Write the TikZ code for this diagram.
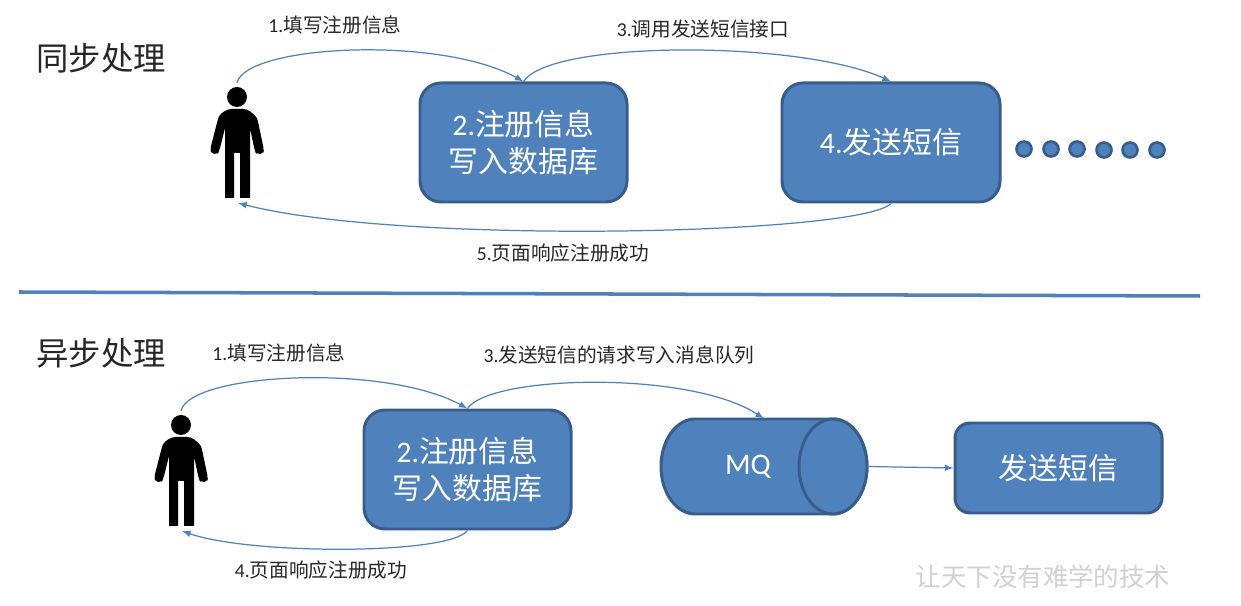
\documentclass[tikz,border=0pt]{standalone}
\usepackage{fontspec}
\setmainfont{Carlito}
\newfontfamily\cjk{Noto Sans CJK SC}
\usetikzlibrary{arrows}

\begin{document}
\begin{tikzpicture}[x=0.2mm,y=-0.2mm]
	\tikzstyle{box} = [draw=boxline,fill=boxfill,line width=1.7pt,rounded corners=0.42cm,text=white,align=center,font=\fontsize{17}{20.6}\selectfont,minimum width=4.14cm,minimum height=2.38cm,inner sep=0pt]
	\tikzstyle{wide box} = [box,minimum width=4.36cm]
	\tikzstyle{small box} = [box,rounded corners=0.3cm,minimum height=1.8cm]
	\tikzstyle{tube} = [draw=boxline,fill=boxfill,line width=1.7pt]
	\tikzstyle{dot} = [circle,draw=boxline,fill=boxfill,line width=1.5pt,minimum size=0.3cm,inner sep=0pt]
	\tikzstyle{link} = [draw=boxfill,line width=0.7pt,-latex]
	\tikzstyle{label} = [font=\fontsize{11.2}{13}\selectfont,text=black!85]
	\tikzstyle{title} = [font=\fontsize{18.4}{22}\selectfont,text=black!85]
	\definecolor{boxfill}{HTML}{4F81BD}
	\definecolor{boxline}{HTML}{385D8A}
	\tikzset{person/.pic={
		\fill[black] (0,0) circle (10);
		\fill[black,rounded corners=2pt] (-18,18) -- (-9,12) -- (10,12) -- (20,20) -- (27,53) -- (26,57) -- (20,57) -- (18,55) -- (13,31) [sharp corners] -- (13,101) -- (3,101) -- (3,56) -- (-3,56) -- (-3,101) -- (-12,101) -- (-12,31) [rounded corners=2pt] -- (-18,55) -- (-20,57) -- (-25,57) -- (-27,53) -- cycle;
	}}

	\useasboundingbox (0,0) rectangle (1241,606);

	% top half
	\node[title] (syncTitle) at (101,58) {{\cjk 同步处理}};
	\pic at (237,97) {person};
	\coordinate (userA) at (237,83);
	\coordinate (userAfoot) at (238,203);
	\node[box] (saveA) at (523.5,142.5) {2.{\cjk 注册信息}\\{\cjk 写入数据库}};
	\node[wide box] (smsA) at (891,142.5) {4.{\cjk 发送短信}};
	\node[dot] (d0) at (1024,149) {};
	\node[dot] (d1) at (1051,149) {};
	\node[dot] (d2) at (1077,149) {};
	\node[dot] (d3) at (1104,150) {};
	\node[dot] (d4) at (1130,150) {};
	\node[dot] (d5) at (1157,150) {};

	\draw[link] (userA) .. controls (245,45) and (440,35) .. (saveA.north);
	\draw[link] (saveA.north) .. controls (550,40) and (800,40) .. (smsA.north);
	\draw[link] (smsA.south) .. controls (860,235) and (400,245) .. (userAfoot);

	\node[label] (t1) at (335,25) {1.{\cjk 填写注册信息}};
	\node[label] (t3) at (703,29) {3.{\cjk 调用发送短信接口}};
	\node[label] (t5) at (563,253) {5.{\cjk 页面响应注册成功}};

	\coordinate (ruleL) at (19,292);
	\coordinate (ruleR) at (1200,296);
	\draw[boxfill,line width=2pt] (ruleL) -- (ruleR);

	% bottom half
	\node[title] (asyncTitle) at (101,353) {{\cjk 异步处理}};
	\pic at (181,425) {person};
	\coordinate (userB) at (181,411);
	\coordinate (userBfoot) at (182,531);
	\node[box] (saveB) at (467.5,469.5) {2.{\cjk 注册信息}\\{\cjk 写入数据库}};
	\node[minimum width=4.12cm,minimum height=1.9cm,inner sep=0pt] (mq) at (764,466.5) {};
	\draw[tube] (833,419) -- (695,419) arc[start angle=90,end angle=270,x radius=0.68cm,y radius=0.95cm] -- (833,514) arc[start angle=-90,end angle=90,x radius=0.68cm,y radius=0.95cm];
	\draw[tube] (833,466.5) ellipse [x radius=0.68cm,y radius=0.95cm];
	\node[text=white,font=\fontsize{17}{21}\selectfont] (mqText) at (748,467) {MQ};
	\node[small box] (smsB) at (1058.5,468) {{\cjk 发送短信}};

	\draw[link] (userB) .. controls (189,373) and (384,363) .. (saveB.north);
	\draw[link] (saveB.north) .. controls (490,375) and (690,370) .. (mq.north);
	\draw[link] (mq.east) -- (smsB.west);
	\draw[link] (saveB.south) .. controls (450,555) and (250,555) .. (userBfoot);

	\node[label] (u1) at (279,353) {1.{\cjk 填写注册信息}};
	\node[label] (u3) at (619,355) {3.{\cjk 发送短信的请求写入消息队列}};
	\node[label] (u4) at (321,570) {4.{\cjk 页面响应注册成功}};
	\node[font=\fontsize{14.5}{17}\selectfont,text=black!18] (mark) at (1043,577) {{\cjk 让天下没有难学的技术}};
\end{tikzpicture}
\end{document}
